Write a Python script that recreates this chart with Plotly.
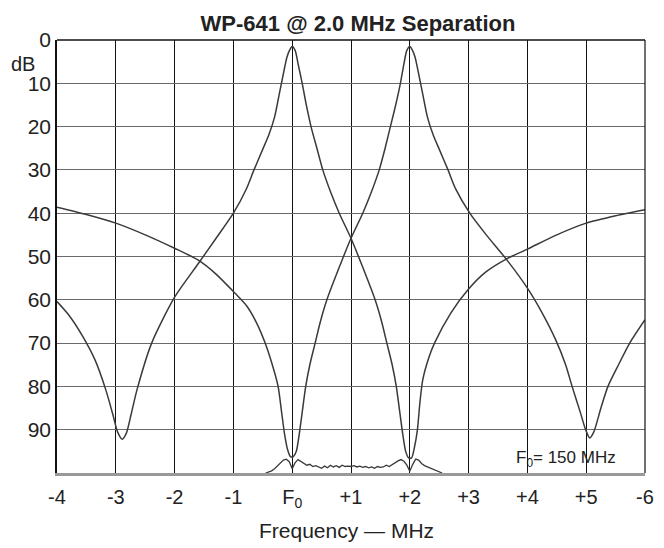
import plotly.graph_objects as go

# ---- data ----
# Filter tuned to F0 (peak at F0, notch at +2 MHz and at about -2.9 MHz)
f_ch1 = [-4.0, -3.8, -3.56, -3.35, -3.17, -3.05, -2.97, -2.89, -2.82, -2.74, -2.64,
         -2.39, -2.0, -1.59, -1.3, -1.0, -0.78, -0.65, -0.5, -0.4, -0.3, -0.22, -0.15,
         -0.09, -0.04, 0.0,
         0.05, 0.1, 0.17, 0.24, 0.32, 0.42, 0.52, 0.65, 0.8, 1.0, 1.2, 1.41, 1.52, 1.61,
         1.7, 1.77, 1.83, 1.88, 1.93, 1.98, 2.03, 2.08, 2.13, 2.17, 2.22, 2.32, 2.42,
         2.7, 3.0, 3.3, 3.64, 4.0, 4.5, 5.0, 5.5, 6.0]
db_ch1 = [60.4, 63.5, 68.5, 74.0, 80.8, 86.5, 90.5, 92.2, 90.8, 86.5, 80.8,
          70.0, 59.4, 51.5, 45.9, 40.0, 34.4, 30.0, 25.2, 22.0, 17.8, 12.5, 7.8,
          4.0, 2.2, 1.5,
          2.4, 5.5, 10.0, 15.0, 20.0, 25.0, 30.0, 35.0, 40.0, 45.8, 52.5, 60.0, 65.0, 70.0,
          75.0, 80.0, 86.0, 91.0, 95.0, 96.5, 96.5, 94.0, 90.0, 84.0, 78.5, 73.5, 70.0,
          63.0, 57.5, 53.5, 50.6, 48.3, 45.0, 42.3, 40.6, 39.2]

# Filter tuned to +2 MHz (peak at +2, notch at F0 and at about +5.1 MHz)
f_ch2 = [-4.0, -3.5, -3.0, -2.5, -2.0, -1.59, -1.3, -1.0, -0.77, -0.6, -0.46, -0.35,
         -0.24, -0.18, -0.13, -0.08, -0.03, 0.02, 0.07, 0.12, 0.17, 0.23, 0.3, 0.39,
         0.48, 0.59, 0.8, 1.0, 1.2, 1.35, 1.48, 1.58, 1.67, 1.76, 1.84, 1.9, 1.95, 2.0,
         2.04, 2.09, 2.15, 2.22, 2.3, 2.4, 2.5, 2.65, 2.78, 3.02, 3.3, 3.64, 4.0, 4.25,
         4.48, 4.65, 4.76, 4.9, 4.99, 5.06, 5.13, 5.25, 5.37, 5.55, 5.74, 6.0]
db_ch2 = [38.6, 40.3, 42.3, 45.0, 48.1, 50.9, 54.0, 58.1, 61.5, 65.5, 70.0, 74.5,
          80.0, 86.0, 91.0, 94.5, 96.2, 96.2, 95.0, 91.0, 86.0, 80.0, 75.0, 70.0,
          65.0, 60.0, 52.5, 45.8, 40.0, 35.0, 30.0, 25.0, 20.0, 15.0, 10.0, 5.5, 2.4, 1.5,
          2.2, 4.0, 7.8, 12.5, 17.8, 22.0, 25.2, 30.0, 34.4, 40.0, 45.0, 50.6, 57.3, 63.0,
          69.2, 75.0, 80.0, 86.0, 90.0, 91.9, 90.5, 85.0, 80.0, 75.0, 70.0, 64.6]

# Isolation / noise-floor trace near the bottom of the scale
f_floor = [-0.45, -0.40, -0.35, -0.30, -0.25, -0.20, -0.15, -0.10, -0.05, 0.00,
           0.05, 0.10, 0.15, 0.20, 0.25, 0.30, 0.35, 0.40, 0.45, 0.50,
           0.55, 0.60, 0.65, 0.70, 0.75, 0.80, 0.85, 0.90, 0.95, 1.00,
           1.05, 1.10, 1.15, 1.20, 1.25, 1.30, 1.35, 1.40, 1.45, 1.50,
           1.55, 1.60, 1.65, 1.70, 1.75, 1.80, 1.85, 1.90, 1.95, 2.00,
           2.05, 2.10, 2.15, 2.20, 2.25, 2.30, 2.35, 2.40, 2.45, 2.50, 2.55]
db_floor = [100.0, 99.8, 99.5, 99.0, 98.4, 97.6, 97.0, 96.8, 97.4, 99.0,
            97.6, 96.9, 97.3, 97.8, 98.2, 98.0, 98.5, 98.3, 98.7, 98.9,
            98.4, 98.8, 98.2, 98.6, 98.3, 98.7, 98.2, 98.5, 98.4, 98.5,
            98.3, 98.6, 98.4, 98.7, 98.5, 98.8, 98.6, 98.9, 98.5, 98.7,
            98.6, 98.2, 98.5, 98.0, 97.5, 97.2, 96.9, 97.3, 98.2, 99.6,
            98.0, 96.8, 97.0, 97.8, 98.3, 98.6, 98.8, 99.1, 99.4, 99.7, 100.0]

x_tickvals = [-4, -3, -2, -1, 0, 1, 2, 3, 4, 5, 6]
x_ticktext = ["-4", "-3", "-2", "-1", "F<sub>0</sub>", "+1", "+2", "+3", "+4", "+5", "-6"]
y_tickvals = [0, 10, 20, 30, 40, 50, 60, 70, 80, 90]
y_ticktext = ["0", "10", "20", "30", "40", "50", "60", "70", "80", "90"]

title_text = "WP-641 @ 2.0 MHz Separation"
x_title = "Frequency — MHz"
y_unit = "dB"
note_text = "F<sub>0</sub>= 150 MHz"

FONT = "Liberation Sans, Arial, Helvetica, sans-serif"
LINE = "#3a3a3a"

fig = go.Figure()
for fx, fy in [(f_ch1, db_ch1), (f_ch2, db_ch2)]:
    fig.add_trace(go.Scatter(x=fx, y=fy, mode="lines",
                             line=dict(color=LINE, width=1.5, shape="spline", smoothing=0.7),
                             showlegend=False, hoverinfo="x+y"))
fig.add_trace(go.Scatter(x=f_floor, y=db_floor, mode="lines",
                         line=dict(color=LINE, width=1.3),
                         showlegend=False, hoverinfo="x+y"))

fig.update_layout(
    width=664, height=548,
    margin=dict(l=57, r=10, t=40, b=75),
    paper_bgcolor="white", plot_bgcolor="white",
    font=dict(family=FONT, color="#222222", size=20),
    title=dict(text="<b>" + title_text + "</b>", x=358 / 664, xanchor="center",
               y=1 - 23 / 548, yanchor="middle", yref="container",
               font=dict(size=22, family=FONT, color="#222222")),
    xaxis=dict(range=[-4, 6], tickvals=x_tickvals, ticktext=x_ticktext,
               showgrid=True, gridcolor="#111111", gridwidth=1,
               showline=True, linecolor="#999999", linewidth=3,
               zeroline=False, ticks="", ticklabelstandoff=4,
               tickfont=dict(size=20, family=FONT, color="#222222")),
    yaxis=dict(range=[100, 0], tickvals=y_tickvals, ticktext=y_ticktext,
               showgrid=True, gridcolor="#6a6a6a", gridwidth=1.2,
               showline=True, linecolor="#111111", linewidth=1.5,
               zeroline=False, ticks="", ticklabelstandoff=0,
               tickfont=dict(size=21, family=FONT, color="#222222")),
    shapes=[
        dict(type="line", xref="paper", yref="paper", x0=0, x1=1, y0=1, y1=1,
             line=dict(color="#111111", width=1.5)),
        dict(type="line", xref="paper", yref="paper", x0=1, x1=1, y0=0, y1=1,
             line=dict(color="#111111", width=1.2)),
    ],
    annotations=[
        dict(text=x_title, xref="x", yref="paper", x=0.925, y=-0.1328,
             xanchor="center", yanchor="middle", showarrow=False,
             font=dict(size=21, family=FONT, color="#222222")),
        dict(text=y_unit, xref="paper", yref="paper", x=(22 - 57) / 597, y=(473 - 64) / 433,
             xanchor="center", yanchor="middle", showarrow=False,
             font=dict(size=20, family=FONT, color="#222222")),
        dict(text=note_text, xref="x", yref="y", x=3.77, y=96.75,
             xanchor="left", yanchor="middle", showarrow=False,
             font=dict(size=17, family=FONT, color="#222222")),
    ],
)

fig.write_html("out.html", config={"displayModeBar": False},
               post_script="document.body.style.margin='0px';document.body.style.padding='0px';document.body.style.overflow='hidden';")
